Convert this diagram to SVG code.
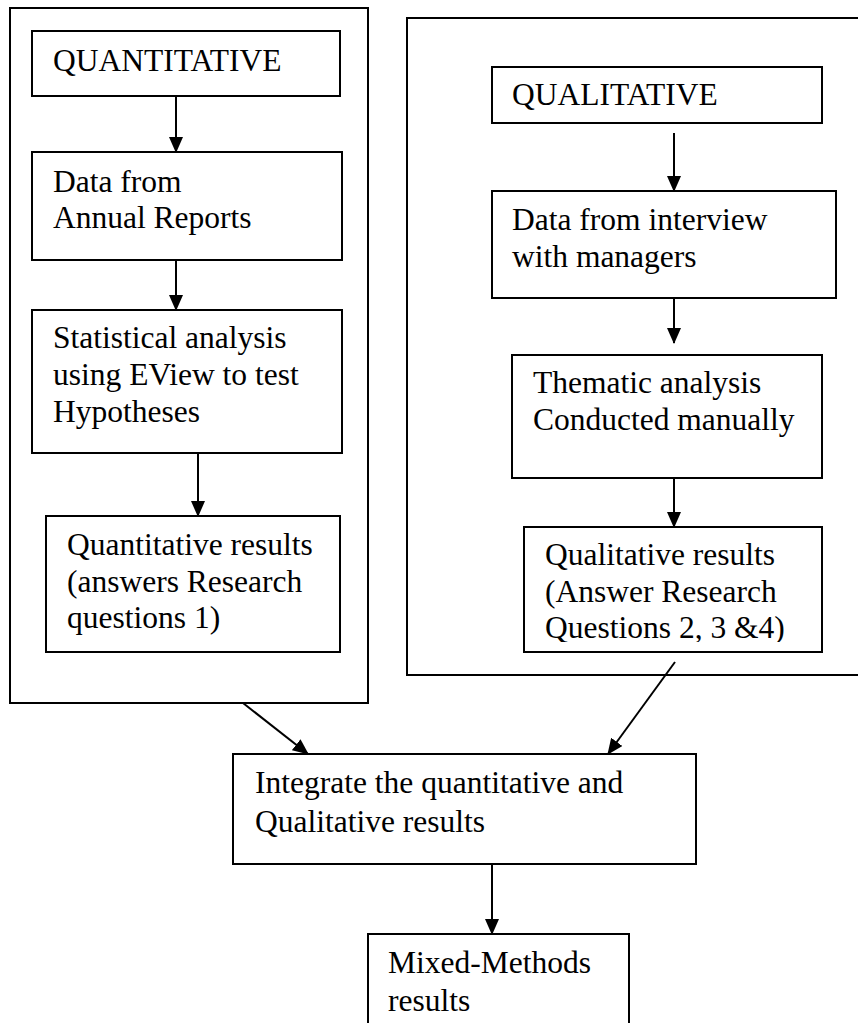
<svg xmlns="http://www.w3.org/2000/svg" width="858" height="1023" viewBox="0 0 858 1023">
<style>
.box{fill:#fff;stroke:#000;stroke-width:2}
.frame{fill:none;stroke:#000;stroke-width:2}
.t{font-family:"Liberation Serif","Times New Roman",serif;font-size:31.5px;fill:#000}
.c{stroke:#000;stroke-width:2;fill:none;marker-end:url(#ah)}
</style>
<defs>
<marker id="ah" markerWidth="16" markerHeight="14" refX="15" refY="7" orient="auto" markerUnits="userSpaceOnUse">
<path d="M0,0 L16,7 L0,14 Z" fill="#000"/>
</marker>
<clipPath id="clipQR"><rect x="524" y="527" width="298" height="115"/></clipPath>
</defs>
<rect width="858" height="1023" fill="#fff"/>
<g id="quant-frame"><rect class="frame" x="10" y="8" width="358" height="695"/></g>
<g id="qual-frame"><path class="frame" d="M860,18 L407,18 L407,675 L860,675"/></g>
<g id="connectors">
<line class="c" x1="176" y1="96" x2="176" y2="152"/>
<line class="c" x1="176" y1="253" x2="176" y2="310"/>
<line class="c" x1="198" y1="453" x2="198" y2="516"/>
<line class="c" x1="674" y1="133" x2="674" y2="191"/>
<line class="c" x1="674" y1="285" x2="674" y2="343"/>
<line class="c" x1="674" y1="470" x2="674" y2="527"/>
<line class="c" x1="243" y1="703" x2="308" y2="754"/>
<line class="c" x1="675" y1="662" x2="608" y2="754"/>
<line class="c" x1="492" y1="864" x2="492" y2="934"/>
</g>
<g id="n-quantitative"><rect class="box" x="32" y="31" width="308" height="65"/><text class="t" x="53" y="71">QUANTITATIVE</text></g>
<g id="n-annual"><rect class="box" x="32" y="152" width="310" height="108"/><text class="t" x="53" y="192">Data from</text><text class="t" x="53" y="228">Annual Reports</text></g>
<g id="n-stat"><rect class="box" x="32" y="310" width="310" height="143"/><text class="t" x="53" y="348">Statistical analysis</text><text class="t" x="53" y="385">using EView to test</text><text class="t" x="53" y="422">Hypotheses</text></g>
<g id="n-quantres"><rect class="box" x="46" y="516" width="294" height="136"/><text class="t" x="67" y="555">Quantitative results</text><text class="t" x="67" y="592">(answers Research</text><text class="t" x="67" y="628">questions 1)</text></g>
<g id="n-qualitative"><rect class="box" x="492" y="67" width="330" height="56"/><text class="t" x="512" y="105">QUALITATIVE</text></g>
<g id="n-interview"><rect class="box" x="492" y="191" width="344" height="107"/><text class="t" x="512" y="230">Data from interview</text><text class="t" x="512" y="267">with managers</text></g>
<g id="n-thematic"><rect class="box" x="512" y="355" width="310" height="123"/><text class="t" x="533" y="393">Thematic analysis</text><text class="t" x="533" y="430">Conducted manually</text></g>
<g id="n-qualres"><rect class="box" x="524" y="527" width="298" height="125"/><g clip-path="url(#clipQR)"><text class="t" x="545" y="565">Qualitative results</text><text class="t" x="545" y="602">(Answer Research</text><text class="t" x="545" y="638">Questions 2, 3 &amp;4)</text></g></g>
<g id="n-integrate"><rect class="box" x="233" y="754" width="463" height="110"/><text class="t" x="255" y="793">Integrate the quantitative and</text><text class="t" x="255" y="832">Qualitative results</text></g>
<g id="n-mixed"><rect class="box" x="368" y="934" width="261" height="100"/><text class="t" x="388" y="973">Mixed-Methods</text><text class="t" x="388" y="1011">results</text></g>
</svg>
